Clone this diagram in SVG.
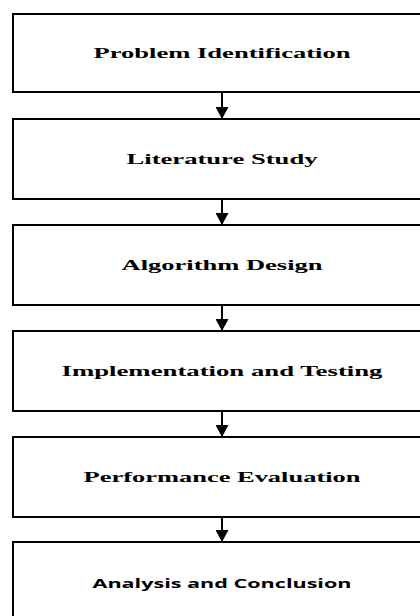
<svg xmlns="http://www.w3.org/2000/svg" width="420" height="616" viewBox="0 0 420 616">
<style>
.box{fill:#fff;stroke:#000;stroke-width:2}
.lbl{font-family:"Liberation Serif","Times New Roman",serif;font-weight:bold;font-size:14px;fill:#000;text-anchor:middle}
.sans{font-family:"Open Sans","Liberation Sans",Arial,sans-serif;font-weight:bold;font-size:12.5px;fill:#000;text-anchor:middle}
.conn{stroke:#000;stroke-width:2;fill:none;marker-end:url(#ah)}
</style>
<defs>
<marker id="ah" viewBox="0 0 12 13" refX="12" refY="6.5" markerWidth="12" markerHeight="13" markerUnits="userSpaceOnUse" orient="auto">
<path d="M0,0 L12,6.5 L0,13 z" fill="#000"/>
</marker>
</defs>
<rect width="420" height="616" fill="#fff"/>
<g id="n1"><rect class="box" x="13" y="14" width="420" height="78"/><text class="lbl" x="222" y="57.7" textLength="257" lengthAdjust="spacingAndGlyphs">Problem Identification</text></g>
<g id="n2"><rect class="box" x="13" y="119" width="420" height="80"/><text class="lbl" x="222" y="163.7" textLength="191" lengthAdjust="spacingAndGlyphs">Literature Study</text></g>
<g id="n3"><rect class="box" x="13" y="225" width="420" height="80"/><text class="lbl" x="222" y="269.7" textLength="201" lengthAdjust="spacingAndGlyphs">Algorithm Design</text></g>
<g id="n4"><rect class="box" x="13" y="331" width="420" height="80"/><text class="lbl" x="222" y="376.3" textLength="321" lengthAdjust="spacingAndGlyphs">Implementation and Testing</text></g>
<g id="n5"><rect class="box" x="13" y="437" width="420" height="80"/><text class="lbl" x="222" y="481.7" textLength="277" lengthAdjust="spacingAndGlyphs">Performance Evaluation</text></g>
<g id="n6"><rect class="box" x="13" y="542" width="420" height="90"/><text class="sans" x="222" y="588.3" textLength="259" lengthAdjust="spacingAndGlyphs">Analysis and Conclusion</text></g>
<g id="connectors">
<line class="conn" x1="222" y1="92" x2="222" y2="119"/>
<line class="conn" x1="222" y1="199" x2="222" y2="225"/>
<line class="conn" x1="222" y1="305" x2="222" y2="331"/>
<line class="conn" x1="222" y1="411" x2="222" y2="437"/>
<line class="conn" x1="222" y1="517" x2="222" y2="542"/>
</g>
</svg>
